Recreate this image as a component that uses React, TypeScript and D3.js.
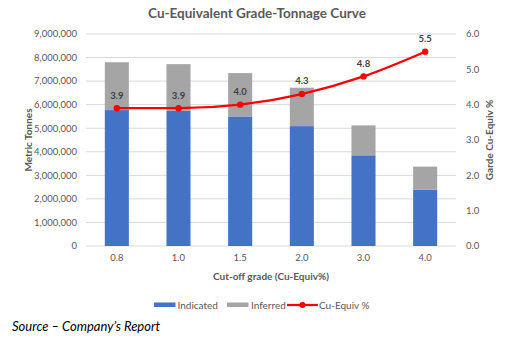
import React from "react";
import * as d3 from "d3";

const categories = ["0.8", "1.0", "1.5", "2.0", "3.0", "4.0"];
const indicated = [5770000, 5740000, 5500000, 5090000, 3850000, 2390000];
const inferred = [2030000, 1980000, 1840000, 1630000, 1270000, 980000];
const grade = [3.9, 3.9, 4.0, 4.3, 4.8, 5.5];
const leftTicks = [0, 1000000, 2000000, 3000000, 4000000, 5000000, 6000000, 7000000, 8000000, 9000000];
const rightTicks = [0, 1, 2, 3, 4, 5, 6];

const W = 505, H = 339;
const left = 86, right = 456, top = 34, bottom = 246;
const font = "Lato, 'Open Sans', sans-serif";
const txt = "#595959";

export default function App() {
  const x = d3.scaleBand<string>().domain(categories).range([left, right]).paddingInner(0.61).paddingOuter(0.305);
  const yL = d3.scaleLinear().domain([0, 9000000]).range([bottom, top]);
  const yR = d3.scaleLinear().domain([0, 6]).range([bottom, top]);
  const fmt = d3.format(",");
  const cx = (c: string) => (x(c) as number) + x.bandwidth() / 2;
  const linePts: [number, number][] = categories.map((c, i) => [cx(c), yR(grade[i])]);
  const line = d3.line().curve(d3.curveMonotoneX)(linePts) as string;

  return (
    <svg width={W} height={H} style={{ position: "absolute", left: 0, top: 0, background: "#fff" }} fontFamily={font}>
      <text x={257} y={18} textAnchor="middle" fontSize={13.5} fontWeight="bold" fill={txt}>
        Cu-Equivalent Grade-Tonnage Curve
      </text>
      {leftTicks.map((t) => (
        <g key={t}>
          <line x1={left} x2={right} y1={yL(t)} y2={yL(t)} stroke="#D9D9D9" strokeWidth={1} />
          <text x={77} y={yL(t)} dy="0.35em" textAnchor="end" fontSize={9.5} fill={txt}>{fmt(t)}</text>
        </g>
      ))}
      {rightTicks.map((t) => (
        <text key={t} x={466} y={yR(t)} dy="0.35em" textAnchor="start" fontSize={9.5} fill={txt}>{t.toFixed(1)}</text>
      ))}
      {categories.map((c, i) => (
        <g key={c}>
          <rect x={x(c)} width={x.bandwidth()} y={yL(indicated[i])} height={yL(0) - yL(indicated[i])} fill="#4472C4" />
          <rect x={x(c)} width={x.bandwidth()} y={yL(indicated[i] + inferred[i])} height={yL(indicated[i]) - yL(indicated[i] + inferred[i])} fill="#A5A5A5" />
          <text x={cx(c)} y={258} dy="0.35em" textAnchor="middle" fontSize={9.5} fill={txt}>{c}</text>
        </g>
      ))}
      <path d={line} fill="none" stroke="#FF0000" strokeWidth={2.25} />
      {linePts.map(([px, py], i) => (
        <g key={i}>
          <circle cx={px} cy={py} r={3.2} fill="#FF0000" />
          <text x={px} y={py - 13} dy="0.35em" textAnchor="middle" fontSize={9.5} fontWeight="bold" fill="#404040">{grade[i].toFixed(1)}</text>
        </g>
      ))}
      <text x={271} y={276} dy="0.35em" textAnchor="middle" fontSize={10} fontWeight="bold" fill={txt}>Cut-off grade (Cu-Equiv%)</text>
      <text transform={`translate(28,140) rotate(-90)`} textAnchor="middle" dy="0.35em" fontSize={10} fontWeight="bold" fill={txt}>Metric Tonnes</text>
      <text transform={`translate(489,140) rotate(-90)`} textAnchor="middle" dy="0.35em" fontSize={10} fontWeight="bold" fill={txt}>Garde Cu-Equiv %</text>
      <g fontSize={10} fill={txt}>
        <rect x={154} y={302.5} width={21.5} height={4.5} fill="#4472C4" />
        <text x={177.5} y={305} dy="0.35em">Indicated</text>
        <rect x={227} y={302.5} width={21.5} height={4.5} fill="#A5A5A5" />
        <text x={251} y={305} dy="0.35em">Inferred</text>
        <line x1={287} x2={318} y1={305} y2={305} stroke="#FF0000" strokeWidth={2.25} />
        <circle cx={302.5} cy={305} r={3} fill="#FF0000" />
        <text x={319} y={305} dy="0.35em">Cu-Equiv %</text>
      </g>
      <text x={12} y={331} fontSize={13} fontStyle="italic" fill="#000">Source – Company’s Report</text>
    </svg>
  );
}
